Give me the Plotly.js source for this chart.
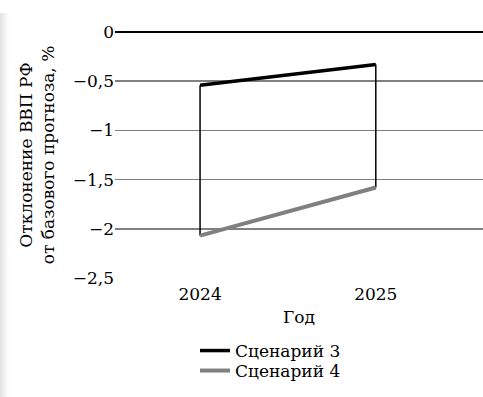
<!DOCTYPE html>
<html><head><meta charset="utf-8">
<script src="https://cdn.plot.ly/plotly-3.0.1.min.js"></script>
<style>body{margin:0;background:#fff}#w{position:relative;width:483px;height:397px}
#sh{position:absolute;left:0;top:13px;width:9px;height:384px;background:linear-gradient(to right,#e2e2e2,#fff);z-index:5;pointer-events:none}
#c{width:483px;height:397px}</style>
</head><body><div id="w"><div id="sh"></div><div id="c"></div></div>
<script>
var years = ['2024', '2025'];
var scenario3 = [-0.54, -0.33];
var scenario4 = [-2.07, -1.58];
var seriesNames = ['Сценарий 3', 'Сценарий 4'];
var yTicks = [0, -0.5, -1, -1.5, -2, -2.5];

var FONT = 'DejaVu Serif';
var hlX = [], hlY = [];
years.forEach(function (y, i) { hlX.push(y, y, null); hlY.push(scenario3[i], scenario4[i], null); });

var traces = [
  {x: hlX, y: hlY, mode: 'lines', line: {color: '#000', width: 1.5}, showlegend: false, hoverinfo: 'skip'},
  {x: years, y: scenario3, name: seriesNames[0], mode: 'lines', line: {color: '#000', width: 3.5}, legend: 'legend'},
  {x: years, y: scenario4, name: seriesNames[1], mode: 'lines', line: {color: '#808080', width: 4}, legend: 'legend2'}
];

function leg(ytop) {
  return {orientation: 'v', x: 0.2174, xref: 'paper', xanchor: 'left', yref: 'container', y: ytop, yanchor: 'middle',
          font: {family: FONT, size: 17}, itemwidth: 30, bgcolor: 'rgba(0,0,0,0)'};
}

var layout = {
  width: 483, height: 397,
  margin: {l: 115, r: 0, t: 32, b: 119},
  paper_bgcolor: 'rgba(0,0,0,0)', plot_bgcolor: '#fff',
  separators: ', ',
  font: {family: FONT, size: 17, color: '#000'},
  showlegend: true,
  legend: leg(1 - 351 / 397),
  legend2: leg(1 - 371 / 397),
  xaxis: {type: 'category', range: [-0.484, 1.61], showgrid: false, zeroline: false, showline: false, automargin: false,
          ticks: '', ticklabelstandoff: 4, tickfont: {family: FONT, size: 17},
          title: {text: 'Год', font: {family: FONT, size: 17}, standoff: 8}},
  yaxis: {range: [-2.5, 0], tickvals: yTicks, showgrid: true, gridcolor: '#808080', gridwidth: 1.5, automargin: false,
          zeroline: true, zerolinecolor: '#000', zerolinewidth: 2, showline: false, ticks: '',
          tickfont: {family: FONT, size: 17},
          title: {text: 'Отклонение ВВП РФ<br>от базового прогноза, %', font: {family: FONT, size: 17}, standoff: 13}}
};
Plotly.newPlot('c', traces, layout, {displayModeBar: false, staticPlot: true});
</script></body></html>
